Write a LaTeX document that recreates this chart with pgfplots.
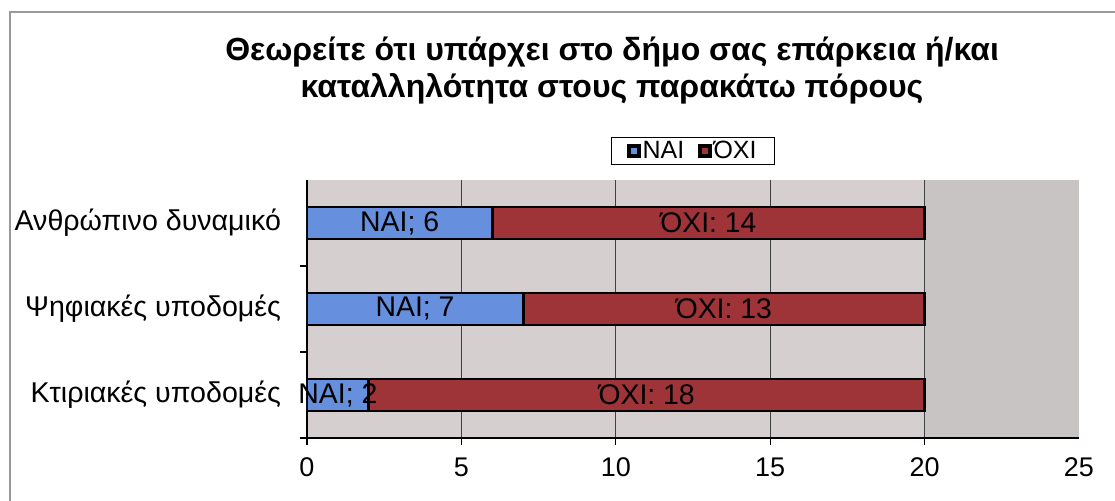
\documentclass[border=0pt]{standalone}
\usepackage{fontspec}
\setmainfont{Liberation Sans}
\usepackage{pgfplots}
\pgfplotsset{compat=1.18}
\definecolor{naiblue}{RGB}{102,143,222}
\definecolor{oxired}{RGB}{158,52,56}
\definecolor{plotbg}{RGB}{214,207,207}
\definecolor{plotbgdark}{RGB}{201,196,196}
\newcommand{\SC}{\char59\relax}
\begin{document}
\begin{tikzpicture}
\useasboundingbox (0,0) rectangle (557.5pt,250.5pt);
\fill[white] (0,0) rectangle (557.5pt,250.5pt);
\draw[gray!80, line width=0.8pt] (5pt,0) -- (5pt,244.5pt) -- (557.5pt,244.5pt);
\node[align=center, font=\fontsize{16}{18.5}\selectfont\bfseries] at (306pt,215pt)
  {Θεωρείτε ότι υπάρχει στο δήμο σας επάρκεια ή/και\\καταλληλότητα στους παρακάτω πόρους};
\begin{axis}[
  at={(153.5pt,31.5pt)}, anchor=south west,
  scale only axis, width=386pt, height=129pt,
  xmin=0, xmax=25, ymin=-0.5, ymax=2.5, hide axis,
]
\addplot[fill=plotbg, draw=none] coordinates {(0,-0.5) (20,-0.5) (20,2.5) (0,2.5)} -- cycle;
\addplot[fill=plotbgdark, draw=none] coordinates {(20,-0.5) (25,-0.5) (25,2.5) (20,2.5)} -- cycle;
\end{axis}
\begin{axis}[
  at={(153.5pt,31.5pt)}, anchor=south west,
  scale only axis, width=386pt, height=129pt,
  xbar stacked, bar width=16pt,
  xmin=0, xmax=25, ymin=-0.5, ymax=2.5,
  axis x line*=bottom, axis y line*=left,
  axis line style={black, line width=0.8pt},
  xtick={0,5,10,15,20}, xmajorgrids,
  extra x ticks={25}, extra x tick style={grid=none, tick style={draw=none}},
  grid style={black!75, line width=0.6pt},
  tick align=outside, major tick length=3.5pt,
  tick style={black, line width=0.6pt},
  ytick={-0.5,0.5,1.5}, yticklabels={},
  extra y ticks={0,1,2},
  extra y tick labels={Κτιριακές υποδομές,Ψηφιακές υποδομές,Ανθρώπινο δυναμικό},
  extra y tick style={tick style={draw=none}},
  /pgf/number format/assume math mode=true,
  ticklabel style={font=\fontsize{13.5}{16}\selectfont},
  xticklabel style={yshift=-3pt},
  yticklabel style={xshift=-6pt, font=\fontsize{14.3}{16}\selectfont},
  legend style={at={(0.5,1.112)}, anchor=center, draw=black, line width=0.6pt,
    font=\fontsize{12.5}{14}\selectfont, inner xsep=8pt, inner ysep=0pt,
    nodes={inner ysep=1.5pt, inner xsep=1pt},
    /tikz/every even column/.append style={column sep=6pt}},
  legend columns=2,
  legend image code/.code={\draw[#1, draw=black, line width=1.6pt] (0pt,-2.5pt) rectangle (5pt,2.5pt);},
]
\addplot[fill=naiblue, draw=black, line width=1.4pt] coordinates {(2,0) (7,1) (6,2)};
\addplot[fill=oxired, draw=black, line width=1.4pt] coordinates {(18,0) (13,1) (14,2)};
\legend{ΝΑΙ,ΌΧΙ}
\end{axis}
\begin{axis}[
  at={(153.5pt,31.5pt)}, anchor=south west,
  scale only axis, width=386pt, height=129pt,
  xmin=0, xmax=25, ymin=-0.5, ymax=2.5, hide axis,
  clip=false,
]
\addplot[only marks, mark=*, mark size=0pt, mark options={draw=none, fill=none},
  nodes near coords={\pgfplotspointmeta}, point meta=explicit symbolic,
  every node near coord/.append style={anchor=center, black, font=\fontsize{14.2}{16}\selectfont}]
  table[meta=label, col sep=comma] {
x,y,label
1,0,ΝΑΙ\SC{} 2
3.5,1,ΝΑΙ\SC{} 7
3,2,ΝΑΙ\SC{} 6
11,0,ΌΧΙ: 18
13.5,1,ΌΧΙ: 13
13,2,ΌΧΙ: 14
};
\end{axis}
\end{tikzpicture}
\end{document}
